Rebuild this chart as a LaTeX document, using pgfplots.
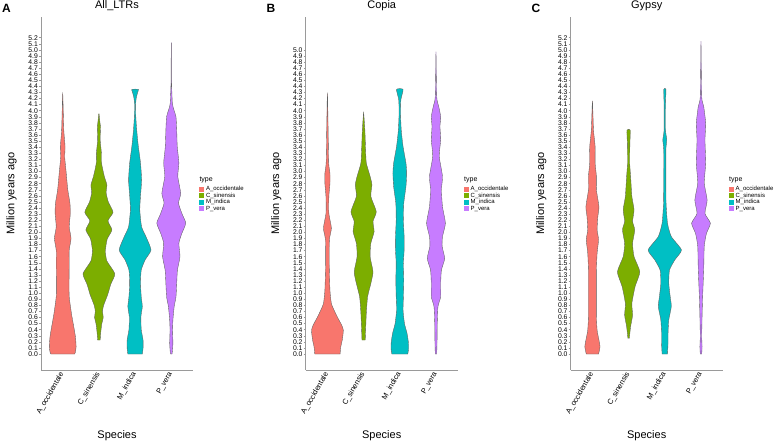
\documentclass[border=0pt]{standalone}
\usepackage{fontspec}
\setmainfont{Liberation Sans}
\usepackage{pgfplots}
\pgfplotsset{compat=1.18}
\usepackage{pgfplotstable}

\definecolor{cAo}{HTML}{F8766D}
\definecolor{cCs}{HTML}{7CAE00}
\definecolor{cMi}{HTML}{00BFC4}
\definecolor{cPv}{HTML}{C77CFF}
\definecolor{axgray}{HTML}{9A9A9A}
\definecolor{vline}{HTML}{606060}

% Each table: y = age (Mya), w = half width of the violin (x units)
% ---------------- Panel A: All_LTRs ----------------
\pgfplotstableread{
y w
0 0.33
0.03 0.35
0.12 0.37
0.29 0.35
0.50 0.29
0.67 0.24
0.94 0.18
1.16 0.175
1.49 0.18
1.71 0.18
1.90 0.23
2.09 0.18
2.31 0.21
2.48 0.20
2.70 0.14
3.02 0.09
3.24 0.055
3.41 0.065
3.68 0.03
4.24 0.004
}\aAo
\pgfplotstableread{
y w
0.23 0.035
0.35 0.05
0.50 0.08
0.60 0.12
0.70 0.10
0.80 0.13
0.97 0.24
1.15 0.33
1.32 0.44
1.53 0.22
1.70 0.18
1.89 0.23
2.04 0.36
2.19 0.25
2.33 0.39
2.50 0.26
2.65 0.20
2.78 0.22
2.92 0.15
3.13 0.075
3.30 0.07
3.52 0.035
3.74 0.045
3.80 0.03
3.95 0.004
}\aCs
\pgfplotstableread{
y w
0 0.20
0.09 0.22
0.23 0.22
0.40 0.17
0.61 0.16
0.78 0.20
0.94 0.17
1.16 0.15
1.38 0.17
1.55 0.28
1.71 0.44
1.93 0.30
2.09 0.18
2.37 0.13
2.60 0.15
2.86 0.18
3.14 0.15
3.41 0.09
3.68 0.045
3.90 0.02
4.10 0.015
4.20 0.03
4.30 0.07
4.35 0.09
}\aMi
\pgfplotstableread{
y w
0 0.02
0.04 0.03
0.18 0.045
0.39 0.035
0.56 0.045
0.78 0.08
0.94 0.13
1.16 0.15
1.38 0.17
1.60 0.24
1.82 0.21
1.98 0.29
2.15 0.40
2.30 0.30
2.48 0.20
2.64 0.26
2.92 0.18
3.14 0.21
3.41 0.165
3.68 0.15
3.90 0.13
4.01 0.075
4.12 0.03
4.50 0.006
5.08 0.002
}\aPv
% ---------------- Panel B: Copia ----------------
\pgfplotstableread{
y w
0 0.35
0.12 0.37
0.23 0.41
0.39 0.44
0.48 0.39
0.59 0.29
0.70 0.20
0.83 0.11
1.05 0.07
1.49 0.05
1.88 0.055
2.07 0.11
2.31 0.04
2.59 0.04
2.80 0.07
2.97 0.07
3.14 0.035
3.68 0.02
4.24 0.004
}\bAo
\pgfplotstableread{
y w
0.23 0.045
0.39 0.055
0.67 0.075
0.94 0.11
1.16 0.20
1.35 0.26
1.60 0.18
1.82 0.20
2.01 0.29
2.18 0.26
2.34 0.35
2.59 0.20
2.78 0.23
2.92 0.18
3.14 0.075
3.36 0.055
3.68 0.035
3.95 0.004
}\bCs
\pgfplotstableread{
y w
0 0.22
0.07 0.24
0.18 0.24
0.34 0.20
0.50 0.13
0.72 0.09
0.94 0.10
1.22 0.11
1.49 0.10
1.71 0.12
1.93 0.12
2.20 0.10
2.48 0.11
2.75 0.17
2.97 0.19
3.14 0.17
3.41 0.09
3.68 0.04
3.96 0.02
4.18 0.03
4.35 0.09
}\bMi
\pgfplotstableread{
y w
0 0.02
0.23 0.03
0.50 0.035
0.78 0.055
0.94 0.13
1.16 0.13
1.38 0.15
1.57 0.24
1.77 0.17
1.93 0.18
2.15 0.26
2.42 0.18
2.70 0.15
2.92 0.18
3.25 0.09
3.52 0.13
3.74 0.11
3.90 0.13
4.07 0.075
4.23 0.02
4.92 0.002
}\bPv
% ---------------- Panel C: Gypsy ----------------
\pgfplotstableread{
y w
0 0.17
0.12 0.21
0.23 0.18
0.39 0.13
0.61 0.11
0.94 0.11
1.38 0.11
1.66 0.13
1.88 0.17
2.04 0.13
2.26 0.15
2.42 0.18
2.70 0.11
2.92 0.11
3.14 0.075
3.41 0.075
3.68 0.03
4.13 0.004
}\cAo
\pgfplotstableread{
y w
0.26 0.02
0.45 0.055
0.64 0.11
0.83 0.09
1.11 0.18
1.35 0.31
1.60 0.15
1.82 0.11
2.04 0.17
2.18 0.11
2.37 0.15
2.59 0.09
2.92 0.055
3.14 0.03
3.46 0.035
3.68 0.045
}\cCs
\pgfplotstableread{
y w
0 0.075
0.18 0.09
0.34 0.09
0.56 0.11
0.78 0.18
0.94 0.15
1.16 0.11
1.38 0.13
1.55 0.28
1.71 0.46
1.93 0.18
2.15 0.075
2.48 0.035
2.86 0.03
3.36 0.03
3.52 0.055
3.68 0.02
4.10 0.02
4.35 0.03
}\cMi
\pgfplotstableread{
y w
0 0.02
0.12 0.03
0.29 0.02
0.61 0.03
0.94 0.045
1.38 0.075
1.77 0.09
1.98 0.15
2.15 0.26
2.31 0.11
2.53 0.17
2.81 0.09
3.14 0.13
3.52 0.11
3.79 0.13
4.07 0.075
4.23 0.02
5.08 0.002
}\cPv

% build the closed outline: right side upwards (s=+w), left side downwards (s=-w)
\newcommand{\prepv}[1]{%
  \pgfplotstablesort[sort key=y, sort cmp=float >]{\vdesc}{#1}%
  \pgfplotstablecreatecol[expr={\thisrow{w}}]{s}{#1}%
  \pgfplotstablecreatecol[expr={-1*\thisrow{w}}]{s}{\vdesc}%
  \pgfplotstablevertcat{#1}{\vdesc}%
}
\prepv\aAo \prepv\aCs \prepv\aMi \prepv\aPv
\prepv\bAo \prepv\bCs \prepv\bMi \prepv\bPv
\prepv\cAo \prepv\cCs \prepv\cMi \prepv\cPv

\newcommand{\violin}[3]{%
  \addplot[fill=#3, draw=vline, line width=0.35pt, smooth, tension=0.35]
    table[x expr={#1+\thisrow{s}}, y=y] {#2} -- cycle;
}

\newcommand{\legendbox}[1]{%
  \node[anchor=west, inner sep=0pt, font=\fontsize{7}{7}\selectfont] at (#1pt,261pt) {type};
  \fill[cAo] (#1pt,249.1pt) rectangle ++(5pt,5.2pt);
  \fill[cCs] (#1pt,242.6pt) rectangle ++(5pt,5.2pt);
  \fill[cMi] (#1pt,236.1pt) rectangle ++(5pt,5.2pt);
  \fill[cPv] (#1pt,229.6pt) rectangle ++(5pt,5.2pt);
  \begin{scope}[every node/.style={anchor=west, inner sep=0pt, font=\fontsize{6}{6}\selectfont}]
  \node at ([xshift=6.5pt]#1pt,251.7pt) {A\_occidentale};
  \node at ([xshift=6.5pt]#1pt,245.2pt) {C\_sinensis};
  \node at ([xshift=6.5pt]#1pt,238.7pt) {M\_indica};
  \node at ([xshift=6.5pt]#1pt,232.2pt) {P\_vera};
  \end{scope}
}

\pgfplotsset{
  vpanel/.style={
    scale only axis, width=152pt, height=353pt, anchor=south west,
    xmin=0.4, xmax=4.6, ymin=-0.263, ymax=5.54,
    axis x line*=bottom, axis y line*=left,
    axis line style={-, axgray, line width=0.6pt},
    xtick={1,2,3,4},
    xticklabels={A\_occidentale,C\_sinensis,M\_indica,P\_vera},
    ytick style={axgray, line width=0.4pt},
    xtick style={draw=none},
    major tick length=2pt, tick align=outside,
    /pgf/number format/assume math mode=true,
    yticklabel style={font=\fontsize{6.8}{6.8}\selectfont, inner sep=0pt, xshift=-1pt,
      /pgf/number format/.cd, fixed, fixed zerofill, precision=1},
    xticklabel style={font=\fontsize{7.5}{7.5}\selectfont, rotate=60, anchor=east, inner sep=1pt},
    title style={at={(axis description cs:0.5,1)}, anchor=base, yshift=2pt, font=\fontsize{11}{11}\selectfont},
    xlabel={Species},
    xlabel style={at={(axis description cs:0.5,0)}, anchor=base, yshift=-68pt, font=\fontsize{11}{11}\selectfont},
    ylabel={Million years ago},
    ylabel style={at={(axis description cs:-0.194,0.5)}, anchor=center, font=\fontsize{11}{11}\selectfont},
  }
}

\begin{document}
\begin{tikzpicture}
\useasboundingbox (0pt,0pt) rectangle (778pt,441pt);

\begin{axis}[vpanel, at={(41pt,71pt)}, title={All\_LTRs},
  ytick={0,0.1,0.2,0.3,0.4,0.5,0.6,0.7,0.8,0.9,1,1.1,1.2,1.3,1.4,1.5,1.6,1.7,1.8,1.9,2,2.1,2.2,2.3,2.4,2.5,2.6,2.7,2.8,2.9,3,3.1,3.2,3.3,3.4,3.5,3.6,3.7,3.8,3.9,4,4.1,4.2,4.3,4.4,4.5,4.6,4.7,4.8,4.9,5,5.1,5.2}]
  \violin{1}{\aAo}{cAo}
  \violin{2}{\aCs}{cCs}
  \violin{3}{\aMi}{cMi}
  \violin{4}{\aPv}{cPv}
\end{axis}

\begin{axis}[vpanel, at={(305.7pt,71pt)}, title={Copia},
  ytick={0,0.1,0.2,0.3,0.4,0.5,0.6,0.7,0.8,0.9,1,1.1,1.2,1.3,1.4,1.5,1.6,1.7,1.8,1.9,2,2.1,2.2,2.3,2.4,2.5,2.6,2.7,2.8,2.9,3,3.1,3.2,3.3,3.4,3.5,3.6,3.7,3.8,3.9,4,4.1,4.2,4.3,4.4,4.5,4.6,4.7,4.8,4.9,5}]
  \violin{1}{\bAo}{cAo}
  \violin{2}{\bCs}{cCs}
  \violin{3}{\bMi}{cMi}
  \violin{4}{\bPv}{cPv}
\end{axis}

\begin{axis}[vpanel, at={(570.7pt,71pt)}, title={Gypsy},
  ytick={0,0.1,0.2,0.3,0.4,0.5,0.6,0.7,0.8,0.9,1,1.1,1.2,1.3,1.4,1.5,1.6,1.7,1.8,1.9,2,2.1,2.2,2.3,2.4,2.5,2.6,2.7,2.8,2.9,3,3.1,3.2,3.3,3.4,3.5,3.6,3.7,3.8,3.9,4,4.1,4.2,4.3,4.4,4.5,4.6,4.7,4.8,4.9,5,5.1,5.2}]
  \violin{1}{\cAo}{cAo}
  \violin{2}{\cCs}{cCs}
  \violin{3}{\cMi}{cMi}
  \violin{4}{\cPv}{cPv}
\end{axis}

\legendbox{199.3}
\legendbox{464}
\legendbox{729}

\node[font=\bfseries\fontsize{12}{12}\selectfont] at (6.5pt,432.5pt) {A};
\node[font=\bfseries\fontsize{12}{12}\selectfont] at (271pt,432.5pt) {B};
\node[font=\bfseries\fontsize{12}{12}\selectfont] at (536pt,432.5pt) {C};
\end{tikzpicture}
\end{document}
